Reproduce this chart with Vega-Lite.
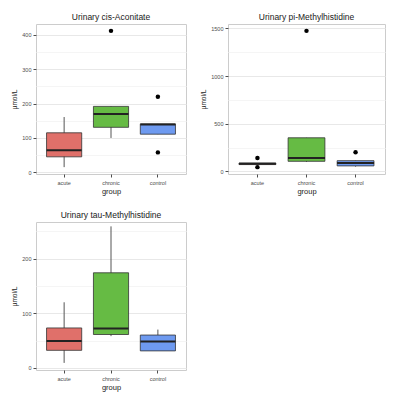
{
  "$schema": "https://vega.github.io/schema/vega-lite/v6.json",
  "background": "white",
  "padding": {"left": 11, "top": 12, "right": 2, "bottom": 2},
  "config": {
    "font": "Liberation Sans",
    "view": {"stroke": "#cccccc", "strokeWidth": 1},
    "title": {"fontSize": 8.5, "fontWeight": "normal", "color": "#1a1a1a", "offset": 3},
    "axis": {
      "labelFontSize": 5.5, "labelColor": "#4d4d4d", "tickColor": "#4d4d4d", "tickSize": 3,
      "domain": false, "titleFontWeight": "normal", "titleColor": "#1a1a1a",
      "gridColor": "#ebebeb", "labelOverlap": false
    },
    "axisX": {"titleFontSize": 7.5, "labelAngle": 0, "labelPadding": 3, "titlePadding": 2, "bandPosition": 0.5},
    "axisY": {"titleFontSize": 6.5, "labelPadding": 2, "titlePadding": 4, "tickCount": 30}
  },
  "datasets": {
    "boxes": [
      {"panel": "cis", "group": "acute", "lower": 15, "q1": 45, "median": 64, "q3": 115, "upper": 161},
      {"panel": "cis", "group": "chronic", "lower": 100, "q1": 131, "median": 170, "q3": 192, "upper": 192},
      {"panel": "cis", "group": "control", "lower": 111, "q1": 111, "median": 139, "q3": 141, "upper": 141},
      {"panel": "pi", "group": "acute", "lower": 72, "q1": 72, "median": 80, "q3": 88, "upper": 88},
      {"panel": "pi", "group": "chronic", "lower": 100, "q1": 106, "median": 141, "q3": 353, "upper": 353},
      {"panel": "pi", "group": "control", "lower": 50, "q1": 58, "median": 88, "q3": 113, "upper": 113},
      {"panel": "tau", "group": "acute", "lower": 9, "q1": 32, "median": 49, "q3": 73, "upper": 120},
      {"panel": "tau", "group": "chronic", "lower": 58, "q1": 61, "median": 72, "q3": 174, "upper": 259},
      {"panel": "tau", "group": "control", "lower": 31, "q1": 31, "median": 48, "q3": 60, "upper": 70}
    ],
    "outliers": [
      {"panel": "cis", "group": "chronic", "value": 412},
      {"panel": "cis", "group": "control", "value": 220},
      {"panel": "cis", "group": "control", "value": 58},
      {"panel": "pi", "group": "acute", "value": 141},
      {"panel": "pi", "group": "acute", "value": 45},
      {"panel": "pi", "group": "chronic", "value": 1475},
      {"panel": "pi", "group": "control", "value": 201}
    ]
  },
  "spacing": 14,
  "vconcat": [
    {
      "spacing": 13,
      "hconcat": [
        {
          "title": "Urinary cis-Aconitate",
          "width": 150, "height": 150,
          "layer": [
            {
              "data": {"name": "boxes"},
              "transform": [{"filter": "datum.panel === 'cis'"}],
              "layer": [
                {"mark": {"type": "rule", "color": "#555555", "strokeWidth": 1},
                 "encoding": {
                   "x": {"field": "group", "type": "nominal", "scale": {"paddingInner": 0.25, "paddingOuter": 0.225}, "axis": {"title": "group"}},
                   "y": {"field": "lower", "type": "quantitative", "scale": {"domain": [-5, 432], "nice": false, "zero": false},
                         "axis": {"title": "µmol/L", "values": [0, 50, 100, 150, 200, 250, 300, 350, 400], "labelOverlap": false, "tickCount": 30,
                                  "labelExpr": "datum.value % 100 === 0 ? format(datum.value, 'd') : ''",
                                  "tickOpacity": {"condition": {"test": "datum.value % 100 !== 0", "value": 0}, "value": 1},
                                  "gridColor": {"condition": {"test": "datum.value % 100 !== 0", "value": "#f5f5f5"}, "value": "#e8e8e8"}}},
                   "y2": {"field": "upper"}
                 }},
                {"mark": {"type": "bar", "stroke": "#333333", "strokeWidth": 1, "strokeOpacity": 0.8},
                 "encoding": {
                   "x": {"field": "group", "type": "nominal"},
                   "y": {"field": "q1", "type": "quantitative"},
                   "y2": {"field": "q3"},
                   "color": {"field": "group", "type": "nominal", "legend": null,
                             "scale": {"domain": ["acute", "chronic", "control"], "range": ["#e0706a", "#66bb44", "#6e9af0"]}}
                 }},
                {"mark": {"type": "tick", "color": "#222222", "thickness": 2, "size": 35, "opacity": 1},
                 "encoding": {
                   "x": {"field": "group", "type": "nominal"},
                   "y": {"field": "median", "type": "quantitative"}
                 }}
              ]
            },
            {
              "data": {"name": "outliers"},
              "transform": [{"filter": "datum.panel === 'cis'"}],
              "mark": {"type": "point", "filled": true, "color": "black", "size": 20, "opacity": 1},
              "encoding": {
                "x": {"field": "group", "type": "nominal"},
                "y": {"field": "value", "type": "quantitative"}
              }
            }
          ]
        },
        {
          "title": "Urinary pi-Methylhistidine",
          "width": 157, "height": 150,
          "layer": [
            {
              "data": {"name": "boxes"},
              "transform": [{"filter": "datum.panel === 'pi'"}],
              "layer": [
                {"mark": {"type": "rule", "color": "#555555", "strokeWidth": 1},
                 "encoding": {
                   "x": {"field": "group", "type": "nominal", "scale": {"paddingInner": 0.25, "paddingOuter": 0.225}, "axis": {"title": "group"}},
                   "y": {"field": "lower", "type": "quantitative", "scale": {"domain": [-27, 1547], "nice": false, "zero": false},
                         "axis": {"title": "µmol/L", "values": [0, 250, 500, 750, 1000, 1250, 1500], "labelOverlap": false, "tickCount": 30,
                                  "labelExpr": "datum.value % 500 === 0 ? format(datum.value, 'd') : ''",
                                  "tickOpacity": {"condition": {"test": "datum.value % 500 !== 0", "value": 0}, "value": 1},
                                  "gridColor": {"condition": {"test": "datum.value % 500 !== 0", "value": "#f5f5f5"}, "value": "#e8e8e8"}}},
                   "y2": {"field": "upper"}
                 }},
                {"mark": {"type": "bar", "stroke": "#333333", "strokeWidth": 1, "strokeOpacity": 0.8},
                 "encoding": {
                   "x": {"field": "group", "type": "nominal"},
                   "y": {"field": "q1", "type": "quantitative"},
                   "y2": {"field": "q3"},
                   "color": {"field": "group", "type": "nominal", "legend": null,
                             "scale": {"domain": ["acute", "chronic", "control"], "range": ["#e0706a", "#66bb44", "#6e9af0"]}}
                 }},
                {"mark": {"type": "tick", "color": "#222222", "thickness": 2, "size": 37, "opacity": 1},
                 "encoding": {
                   "x": {"field": "group", "type": "nominal"},
                   "y": {"field": "median", "type": "quantitative"}
                 }}
              ]
            },
            {
              "data": {"name": "outliers"},
              "transform": [{"filter": "datum.panel === 'pi'"}],
              "mark": {"type": "point", "filled": true, "color": "black", "size": 20, "opacity": 1},
              "encoding": {
                "x": {"field": "group", "type": "nominal"},
                "y": {"field": "value", "type": "quantitative"}
              }
            }
          ]
        }
      ]
    },
    {
      "title": "Urinary tau-Methylhistidine",
      "width": 150, "height": 148,
      "data": {"name": "boxes"},
      "transform": [{"filter": "datum.panel === 'tau'"}],
      "layer": [
        {"mark": {"type": "rule", "color": "#555555", "strokeWidth": 1},
         "encoding": {
           "x": {"field": "group", "type": "nominal", "scale": {"paddingInner": 0.25, "paddingOuter": 0.225}, "axis": {"title": "group"}},
           "y": {"field": "lower", "type": "quantitative", "scale": {"domain": [-4, 267], "nice": false, "zero": false},
                 "axis": {"title": "µmol/L", "values": [0, 50, 100, 150, 200, 250], "labelOverlap": false, "tickCount": 30,
                          "labelExpr": "datum.value % 100 === 0 ? format(datum.value, 'd') : ''",
                          "tickOpacity": {"condition": {"test": "datum.value % 100 !== 0", "value": 0}, "value": 1},
                          "gridColor": {"condition": {"test": "datum.value % 100 !== 0", "value": "#f5f5f5"}, "value": "#e8e8e8"}}},
           "y2": {"field": "upper"}
         }},
        {"mark": {"type": "bar", "stroke": "#333333", "strokeWidth": 1, "strokeOpacity": 0.8},
         "encoding": {
           "x": {"field": "group", "type": "nominal"},
           "y": {"field": "q1", "type": "quantitative"},
           "y2": {"field": "q3"},
           "color": {"field": "group", "type": "nominal", "legend": null,
                     "scale": {"domain": ["acute", "chronic", "control"], "range": ["#e0706a", "#66bb44", "#6e9af0"]}}
         }},
        {"mark": {"type": "tick", "color": "#222222", "thickness": 2, "size": 35, "opacity": 1},
         "encoding": {
           "x": {"field": "group", "type": "nominal"},
           "y": {"field": "median", "type": "quantitative"}
         }}
      ]
    }
  ]
}
